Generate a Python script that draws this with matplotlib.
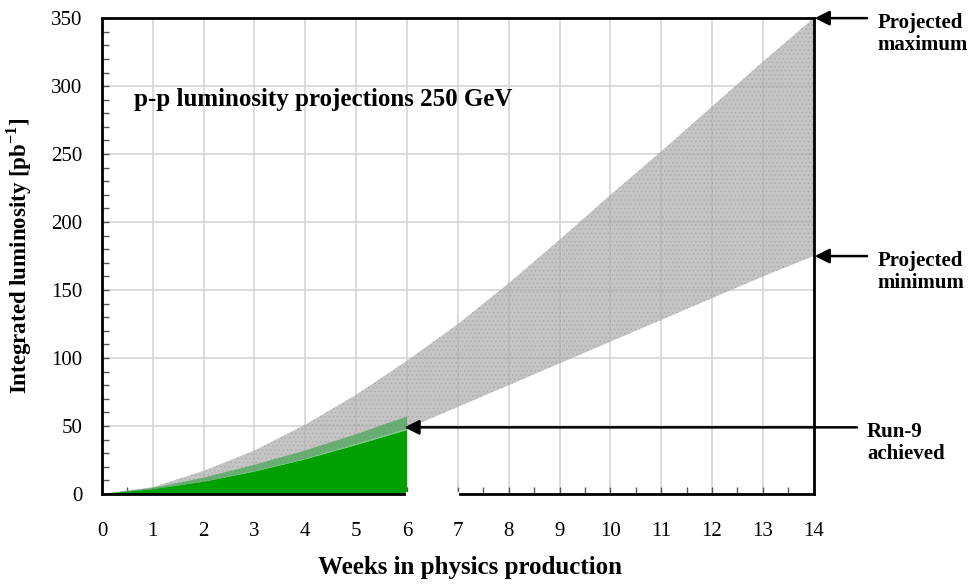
import numpy as np
import matplotlib
matplotlib.use('Agg')
import matplotlib.pyplot as plt
from matplotlib.ticker import MultipleLocator, FixedLocator

# projected integrated luminosity band (pb^-1) per week
weeks = [0, 1, 2, 3, 4, 5, 6, 7, 8, 9, 10, 11, 12, 13, 14]
proj_max = [0, 5, 17, 32, 51, 73, 98, 125, 155, 187, 220, 252, 285, 318, 350]
proj_min = [0, 3, 9, 17, 26, 37, 48, 64, 80, 96, 112, 128, 144, 160, 175]

# Run-9 delivered so far
run9_weeks = [0, 1, 2, 3, 4, 5, 6]
run9_lumi = [0, 3.5, 9, 16.5, 25.5, 36, 47]
run9_upper = [0, 4.5, 12, 21.5, 32, 44, 57]

plt.rcParams['font.family'] = ['Liberation Serif', 'DejaVu Serif']
plt.rcParams['mathtext.fontset'] = 'custom'
plt.rcParams['mathtext.rm'] = 'Liberation Serif'
plt.rcParams['mathtext.bf'] = 'Liberation Serif:bold'
plt.rcParams['hatch.color'] = '#a6a6a6'
plt.rcParams['hatch.linewidth'] = 0.4

fig = plt.figure(figsize=(9.71, 5.85), dpi=100)
ax = fig.add_axes([0.105, 0.1556, 0.733, 0.8134])

ax.set_xlim(0, 14)
ax.set_ylim(0, 350)

# gray projection band (slightly see-through so the grid shows)
ax.fill_between(weeks, proj_min, proj_max, facecolor='#acacac', alpha=0.71,
                edgecolor='none', hatch='....', lw=0, zorder=2)

# achieved luminosity
ax.fill_between(run9_weeks, 0, run9_lumi, facecolor='#00a000',
                edgecolor='none', zorder=3)
ax.fill_between(run9_weeks, run9_lumi, run9_upper, facecolor='#2ea040',
                alpha=0.6, edgecolor='none', zorder=3)

minor_x = [w + 0.5 for w in range(14) if w != 6]
ax.xaxis.set_major_locator(MultipleLocator(1))
ax.xaxis.set_minor_locator(FixedLocator(minor_x))
ax.yaxis.set_major_locator(MultipleLocator(50))
ax.yaxis.set_minor_locator(MultipleLocator(10))
ax.grid(True, which='major', color='#d9d9d9', lw=1.3, zorder=1)
ax.set_axisbelow(True)

ax.tick_params(axis='both', which='both', direction='in', length=5,
               width=1, color='#555555', labelsize=15)
ax.tick_params(axis='x', pad=20)
ax.tick_params(axis='y', pad=14)
ax.tick_params(top=False, right=False)

for side in ['left', 'right', 'top', 'bottom']:
    ax.spines[side].set_linewidth(2)
    ax.spines[side].set_zorder(6)

# break in bottom axis line between week 6 and 7
ax.plot([6.02, 6.98], [0, 0], color='white', lw=3, clip_on=False, zorder=7)

ax.set_xlabel('Weeks in physics production', fontsize=18,
              fontweight='bold')
ax.xaxis.set_label_coords(0.517, -0.131)
ax.set_ylabel('Integrated luminosity [pb$^{\\mathbf{-1}}$]', fontsize=16.5,
              fontweight='bold', labelpad=12)

ax.text(0.64, 290, 'p-p luminosity projections 250 GeV', fontsize=18,
        fontweight='bold', va='center', ha='left', zorder=8)

# annotations on the right
notes = [
    ('Projected\nmaximum', 350, 14.02, 15.05),
    ('Projected\nminimum', 175, 14.02, 15.05),
    ('Run-9\nachieved', 49, 5.95, 14.85),
]
for label, yval, xtip, xtxt in notes:
    ax.annotate('', xy=(xtip, yval), xytext=(xtxt, yval),
                arrowprops=dict(arrowstyle='-|>', color='black', lw=1.8,
                                mutation_scale=22, shrinkA=0, shrinkB=0),
                annotation_clip=False, zorder=9)
    ax.text(xtxt + 0.2, yval + 4, label, fontsize=15, fontweight='bold',
            ha='left', va='top', linespacing=1.15, clip_on=False)

fig.savefig('out.png', dpi=100)
